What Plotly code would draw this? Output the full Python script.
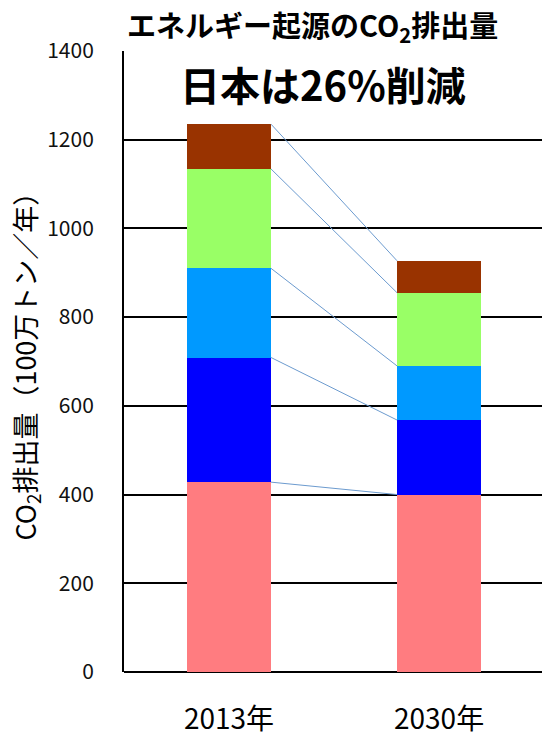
import plotly.graph_objects as go

years = ["2013年", "2030年"]
segment_names = ["s1", "s2", "s3", "s4", "s5"]
values = {
    "s1": [428, 400],
    "s2": [281, 168],
    "s3": [201, 122],
    "s4": [224, 165],
    "s5": [101, 72],
}
colors = ["#FF7C80", "#0000FF", "#0099FF", "#99FF66", "#993300"]
yticks = [0, 200, 400, 600, 800, 1000, 1200, 1400]

FONT = "Noto Sans CJK JP"
bar_width = 0.4

fig = go.Figure()
for name, col in zip(segment_names, colors):
    fig.add_trace(go.Bar(x=[0, 1], y=values[name], marker=dict(color=col, line=dict(width=0)),
                         width=bar_width, showlegend=False, name=name))

# connector lines between cumulative tops
cum = [0, 0]
for name in segment_names:
    cum = [cum[0] + values[name][0], cum[1] + values[name][1]]
    fig.add_trace(go.Scatter(x=[0 + bar_width / 2, 1 - bar_width / 2], y=cum, mode="lines",
                             line=dict(color="#6C9BCF", width=1), showlegend=False, hoverinfo="skip"))

fig.update_layout(
    barmode="stack",
    width=542, height=737,
    margin=dict(l=124, r=0, t=51, b=63),
    plot_bgcolor="white", paper_bgcolor="white",
    font=dict(family=FONT, color="#000000"),
    xaxis=dict(range=[-0.5, 1.49], tickmode="array", tickvals=[0, 1], ticktext=years,
               showgrid=False, zeroline=False, showline=False, ticks="",
               tickfont=dict(size=28, family=FONT), ticklabelstandoff=28),
    yaxis=dict(range=[0, 1400], tickmode="array", tickvals=yticks,
               showgrid=True, gridcolor="black", gridwidth=2,
               zeroline=True, zerolinecolor="black", zerolinewidth=2,
               showline=True, linecolor="black", linewidth=2, ticks="",
               tickfont=dict(size=21, family=FONT, color="#111111"), ticklabelstandoff=24),
    annotations=[
        dict(text="<b>エネルギー起源のCO<sub>2</sub>排出量</b>", xref="paper", yref="paper",
             x=0.452, y=1, yshift=25, xanchor="center", yanchor="middle", showarrow=False,
             font=dict(size=29, family=FONT, color="black")),
        dict(text="<b>日本は26%削減</b>", xref="paper", yref="paper",
             x=0.477, y=1, yshift=-33, xanchor="center", yanchor="middle", showarrow=False,
             font=dict(size=40, family=FONT, color="black")),
        dict(text="CO<sub>2</sub>排出量（100万トン／年）", xref="paper", yref="paper",
             x=0, xshift=-99, y=0.5, yshift=2, xanchor="center", yanchor="middle", textangle=-90,
             showarrow=False, font=dict(size=27, family=FONT, color="black")),
    ],
)

fig.write_html("out.html")
